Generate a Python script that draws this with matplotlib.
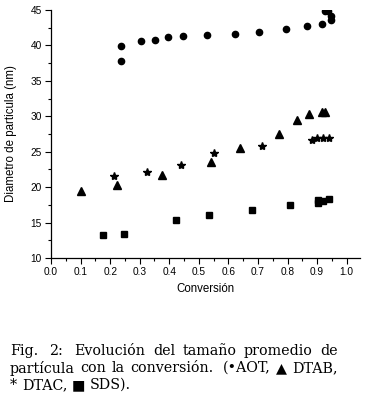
import matplotlib
matplotlib.use("Agg")
import matplotlib.pyplot as plt
from matplotlib.ticker import MultipleLocator

# Data
aot_x = [0.236, 0.236, 0.304, 0.351, 0.394, 0.448, 0.528, 0.623, 0.703, 0.795, 0.865, 0.917, 0.926, 0.937, 0.948, 0.948]
aot_y = [39.87, 37.84, 40.6, 40.8, 41.23, 41.37, 41.47, 41.56, 41.84, 42.36, 42.79, 43.07, 44.8, 44.8, 44.2, 43.6]

dtab_x = [0.103, 0.223, 0.377, 0.541, 0.640, 0.771, 0.832, 0.871, 0.915, 0.926]
dtab_y = [19.47, 20.36, 21.73, 23.52, 25.55, 27.57, 29.46, 30.30, 30.63, 30.63]

dtac_x = [0.214, 0.325, 0.441, 0.552, 0.715, 0.883, 0.900, 0.920, 0.939]
dtac_y = [21.59, 22.15, 23.10, 24.75, 25.74, 26.63, 26.87, 26.87, 26.87]

sds_x = [0.175, 0.246, 0.424, 0.536, 0.681, 0.808, 0.903, 0.903, 0.920, 0.939]
sds_y = [13.30, 13.44, 15.42, 16.08, 16.74, 17.49, 18.25, 17.78, 18.06, 18.35]

x_label = "Conversión"
y_label = "Diametro de particula (nm)"

caption_lines = [
    ["Fig.", "2:", "Evolución", "del", "tamaño", "promedio", "de"],
    ["partícula", "con", "la", "conversión.", "(•AOT,", "▲", "DTAB,"],
    ["*", "DTAC,", "■", "SDS)."],
]

W, H = 366, 397
fig = plt.figure(figsize=(W / 100, H / 100), dpi=100)
ax = fig.add_axes([51 / W, 1 - 258 / H, (360 - 51) / W, (258 - 10) / H])

kw = dict(linestyle="none", color="black", clip_on=True)
ax.plot(aot_x, aot_y, marker="o", markersize=4.5, **kw)
ax.plot(dtab_x, dtab_y, marker="^", markersize=5.2, **kw)
ax.plot(dtac_x, dtac_y, marker="*", markersize=6.0, **kw)
ax.plot(sds_x, sds_y, marker="s", markersize=4.2, **kw)

ax.set_xlim(0.0, 1.045)
ax.set_ylim(10, 45)
ax.xaxis.set_major_locator(MultipleLocator(0.1))
ax.xaxis.set_minor_locator(MultipleLocator(0.05))
ax.yaxis.set_major_locator(MultipleLocator(5))
ax.yaxis.set_minor_locator(MultipleLocator(2.5))
ax.xaxis.set_major_formatter(matplotlib.ticker.FormatStrFormatter("%.1f"))

for s in ["top", "right"]:
    ax.spines[s].set_visible(False)
for s in ["left", "bottom"]:
    ax.spines[s].set_linewidth(0.9)

ax.tick_params(which="major", direction="out", length=4, width=0.8,
               labelsize=7.3, pad=2.5)
ax.tick_params(which="minor", direction="out", length=2.2, width=0.8)
for lab in ax.get_xticklabels() + ax.get_yticklabels():
    lab.set_fontfamily("Liberation Sans")

ax.set_xlabel(x_label, fontsize=8.3, family="Liberation Sans", labelpad=4)
ax.set_ylabel(y_label, fontsize=8.3, family="Liberation Sans", labelpad=10)

# Caption, justified word by word like TeX
fam = ["DejaVu Serif", "DejaVu Sans"]
x_left, x_right = 10, 338
line_y = [351, 368, 385]
renderer = fig.canvas.get_renderer()


def gap_weights(words):
    return [1.5 if w.endswith((".", ":")) else 1.0 for w in words[:-1]]


def measure(words, fs):
    ts = [fig.text(0, 0, w, fontsize=fs, family=fam) for w in words]
    ws = [t.get_window_extent(renderer).width for t in ts]
    for t in ts:
        t.remove()
    return ws


# choose size so that the second line fills the measure with ~0.4em spaces
fs0 = 10.0
s0 = sum(measure(caption_lines[1], fs0))
gw = sum(gap_weights(caption_lines[1]))
fs = (x_right - x_left) / (s0 / fs0 + gw * 0.4 * 100 / 72)
fs = min(fs, 10.5)

for li, (words, y) in enumerate(zip(caption_lines, line_y)):
    widths = measure(words, fs)
    weights = gap_weights(words)
    if li < len(caption_lines) - 1:
        unit = ((x_right - x_left) - sum(widths)) / sum(weights)
    else:
        unit = 0.33 * fs * 100 / 72
    x = x_left
    for i, w in enumerate(words):
        fig.text(x / W, 1 - y / H, w, ha="left", va="center",
                 fontsize=fs, family=fam)
        if i < len(weights):
            x += widths[i] + unit * weights[i]

fig.savefig("out.png", dpi=100)
